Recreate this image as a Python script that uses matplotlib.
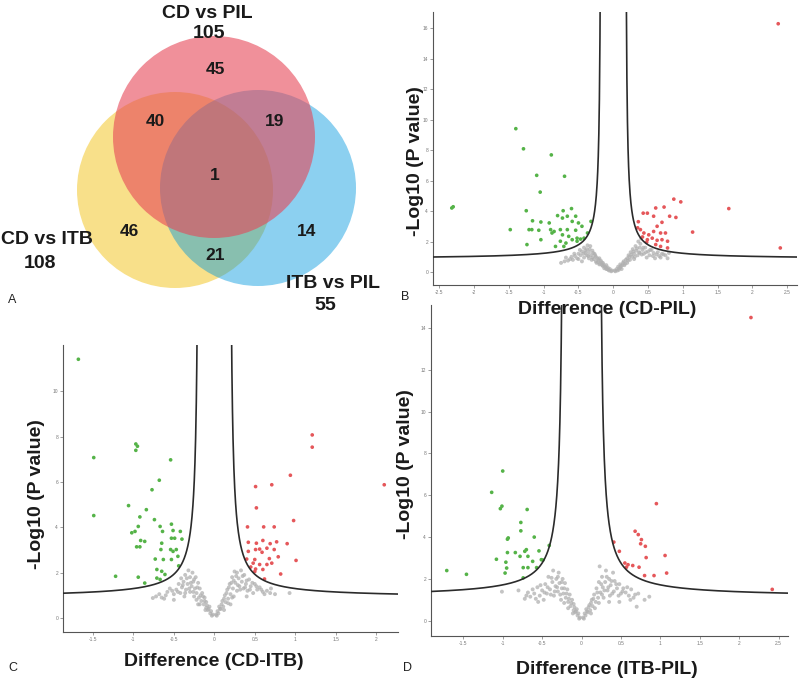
import numpy as np
import matplotlib
matplotlib.use("Agg")
import matplotlib.pyplot as plt
from matplotlib.patches import Circle

plt.rcParams['font.family'] = ['Liberation Sans', 'DejaVu Sans']

W, H = 800, 683

# ---- Venn counts ----
venn_sets = ["CD vs PIL", "CD vs ITB", "ITB vs PIL"]
venn_totals = [105, 108, 55]
venn_regions = {"PIL_only": 45, "CDPIL_CDITB": 40, "CDPIL_ITBPIL": 19, "all": 1,
                "CDITB_only": 46, "ITBPIL_only": 14, "CDITB_ITBPIL": 21}

# ---- volcano B: CD-PIL ----
b_green_x = [-2.32, -2.30, -1.40, -1.29, -0.89, -1.10, -0.70, -1.05, -1.25, -1.48, -1.24, -1.16, -1.04,
             -0.92, -1.17, -1.07, -1.04, -0.90, -0.85, -0.88, -0.80, -0.72, -0.60, -0.66, -0.73, -0.54,
             -0.59, -0.50, -0.76, -0.66, -0.54, -0.73, -0.64, -0.76, -0.68, -0.59, -0.52, -0.47, -0.42,
             -0.45, -0.37, -0.32, -0.83, -0.71, -0.52, -1.21]
b_green_y = [4.20, 4.28, 9.40, 8.08, 7.68, 6.34, 6.28, 5.24, 4.02, 2.78, 1.80, 3.36, 3.28,
             3.22, 2.78, 2.74, 2.12, 2.78, 2.66, 2.56, 3.70, 4.02, 4.16, 3.66, 3.54, 3.66,
             3.32, 3.22, 2.78, 2.78, 2.74, 2.44, 2.34, 2.02, 1.90, 2.12, 2.22, 2.16, 2.22,
             3.00, 2.56, 3.32, 1.68, 1.68, 2.02, 2.78]
b_red_x = [2.37, 2.40, 1.66, 1.14, 0.87, 0.97, 0.73, 0.61, 0.43, 0.49, 0.81, 0.90, 0.58, 0.70, 0.63,
           0.58, 0.68, 0.75, 0.39, 0.44, 0.51, 0.42, 0.49, 0.56, 0.63, 0.70, 0.78, 0.61, 0.68, 0.78,
           0.48, 0.35, 0.36]
b_red_y = [16.28, 1.58, 4.16, 2.62, 4.78, 4.60, 4.26, 4.20, 3.86, 3.86, 3.66, 3.58, 3.66, 3.26, 3.00,
           2.66, 2.56, 2.56, 2.78, 2.56, 2.44, 2.30, 2.12, 2.22, 2.08, 2.12, 2.02, 1.80, 1.68, 1.58,
           1.95, 2.90, 3.30]
b_gray_x = [-0.02, -0.05, -0.08, -0.10, -0.12, -0.15, -0.15, -0.18, -0.20, -0.20, -0.22, -0.25, -0.25,
            -0.27, -0.28, -0.30, -0.30, -0.32, -0.33, -0.35, -0.35, -0.38, -0.38, -0.40, -0.42, -0.42,
            -0.45, -0.47, -0.50, -0.52, -0.55, -0.58, -0.60, -0.65, -0.70, -0.75, -0.45, -0.10, -0.07,
            -0.13,
            -0.03, -0.06, -0.09, -0.11, -0.14, -0.16, -0.17, -0.19, -0.21, -0.23, -0.24, -0.26, -0.29,
            -0.31, -0.34, -0.36, -0.37, -0.40, -0.43, -0.48, -0.50, -0.56, -0.62, -0.68,
            0.02, 0.05, 0.07, 0.10, 0.10, 0.13, 0.15, 0.17, 0.20, 0.20, 0.22, 0.24, 0.25, 0.27, 0.28,
            0.30, 0.30, 0.32, 0.33, 0.35, 0.36, 0.38, 0.38, 0.40, 0.42, 0.44, 0.46, 0.50, 0.52, 0.55,
            0.58, 0.62, 0.66, 0.70, 0.75, 0.80, 0.48, 0.12, 0.08, 0.60,
            0.03, 0.06, 0.09, 0.11, 0.14, 0.16, 0.18, 0.21, 0.23, 0.26, 0.29, 0.31, 0.34, 0.37, 0.39,
            0.41, 0.43, 0.47, 0.53, 0.57, 0.64, 0.68, 0.72, 0.78]
b_gray_y = [0.10, 0.20, 0.30, 0.45, 0.35, 0.60, 0.40, 0.75, 0.50, 0.90, 0.65, 1.00, 0.70,
            1.20, 0.85, 1.40, 0.95, 1.10, 1.70, 1.30, 0.90, 1.50, 1.10, 1.25, 1.60, 0.95,
            1.35, 1.10, 1.20, 0.90, 1.05, 0.80, 1.00, 0.75, 0.70, 0.60, 0.70, 0.20, 0.15,
            0.25,
            0.05, 0.10, 0.20, 0.30, 0.50, 0.45, 0.65, 0.55, 0.80, 0.90, 0.60, 1.10, 1.25,
            0.80, 1.50, 1.05, 1.75, 1.40, 1.20, 1.45, 0.85, 1.20, 0.85, 0.95,
            0.10, 0.20, 0.35, 0.30, 0.50, 0.45, 0.70, 0.55, 0.90, 0.60, 1.10, 0.80, 1.30, 1.00, 1.50,
            1.20, 0.85, 1.70, 1.40, 1.10, 2.00, 1.60, 1.25, 2.20, 1.45, 1.20, 1.60, 1.35, 1.10, 1.45,
            1.25, 1.15, 1.05, 1.20, 1.10, 1.25, 0.95, 0.20, 0.15, 0.90,
            0.05, 0.10, 0.25, 0.40, 0.60, 0.45, 0.80, 0.75, 1.00, 1.15, 1.35, 1.00, 1.55, 1.30, 1.85,
            1.15, 1.60, 1.30, 1.45, 1.05, 1.30, 0.95, 1.15, 0.90]

# ---- volcano C: CD-ITB ----
c_green_x = [-1.68, -1.49, -1.49, -1.22, -0.97, -0.95, -0.97, -0.54, -0.68, -0.77, -1.06, -0.84, -0.92,
             -0.74, -0.53, -0.42, -0.67, -0.94, -0.98, -1.02, -0.64, -0.51, -0.91, -0.86, -0.65, -0.53,
             -0.49, -0.40, -0.96, -0.92, -0.66, -0.54, -0.51, -0.47, -0.45, -0.73, -0.63, -0.53, -0.44,
             -0.71, -0.65, -0.94, -0.71, -0.61, -0.86, -0.67]
c_green_y = [11.42, 7.08, 4.52, 1.84, 7.68, 7.58, 7.40, 6.98, 6.08, 5.66, 4.96, 4.78, 4.46,
             4.34, 4.14, 3.82, 4.04, 4.04, 3.82, 3.76, 3.82, 3.86, 3.42, 3.38, 3.30, 3.52,
             3.52, 3.48, 3.14, 3.14, 3.02, 3.02, 2.94, 3.02, 2.72, 2.60, 2.58, 2.58, 2.30,
             2.14, 2.06, 1.80, 1.76, 1.92, 1.54, 1.70]
c_red_x = [1.21, 1.21, 0.94, 2.10, 0.51, 0.71, 0.52, 0.98, 0.41, 0.61, 0.74, 0.42, 0.52, 0.60, 0.69,
           0.77, 0.90, 0.51, 0.56, 0.65, 0.74, 0.42, 0.59, 0.79, 1.01, 0.68, 0.40, 0.50, 0.56, 0.65,
           0.71, 0.45, 0.51, 0.60, 0.82, 0.50, 0.62, 0.48]
c_red_y = [8.08, 7.54, 6.30, 5.88, 5.80, 5.88, 4.86, 4.30, 4.02, 4.02, 4.02, 3.34, 3.30, 3.42, 3.28,
           3.36, 3.28, 3.02, 3.04, 3.08, 3.02, 2.94, 2.90, 2.70, 2.54, 2.62, 2.60, 2.58, 2.36, 2.36,
           2.42, 2.25, 2.16, 2.14, 1.94, 2.05, 1.72, 2.42]
c_gray_x = [-0.02, -0.04, -0.06, -0.08, -0.10, -0.10, -0.12, -0.13, -0.15, -0.16, -0.18, -0.19, -0.20,
            -0.22, -0.23, -0.24, -0.25, -0.26, -0.27, -0.28, -0.30, -0.30, -0.32, -0.33, -0.35, -0.36,
            -0.38, -0.40, -0.42, -0.44, -0.47, -0.50, -0.55, -0.60, -0.65, -0.72, -0.76, -0.50, -0.37,
            -0.20,
            -0.03, -0.05, -0.07, -0.09, -0.11, -0.12, -0.14, -0.17, -0.18, -0.21, -0.22, -0.25, -0.26,
            -0.29, -0.31, -0.34, -0.36, -0.39, -0.41, -0.45, -0.52, -0.58, -0.62, -0.68,
            0.02, 0.04, 0.06, 0.08, 0.10, 0.11, 0.13, 0.14, 0.16, 0.17, 0.19, 0.20, 0.22, 0.23, 0.24,
            0.25, 0.26, 0.28, 0.28, 0.30, 0.31, 0.33, 0.34, 0.36, 0.37, 0.39, 0.41, 0.43, 0.45, 0.48,
            0.50, 0.53, 0.56, 0.60, 0.65, 0.69, 0.75, 0.93, 0.40, 0.20,
            0.03, 0.05, 0.07, 0.09, 0.12, 0.12, 0.15, 0.17, 0.18, 0.21, 0.22, 0.24, 0.27, 0.29, 0.32,
            0.35, 0.38, 0.40, 0.44, 0.47, 0.52, 0.58, 0.62, 0.70]
c_gray_y = [0.15, 0.30, 0.50, 0.35, 0.70, 0.45, 0.90, 0.60, 1.10, 0.75, 1.30, 0.90, 1.55,
            1.10, 1.80, 1.30, 0.95, 1.60, 2.00, 1.40, 1.15, 1.80, 2.10, 1.50, 1.25, 1.90,
            1.60, 1.35, 1.10, 1.50, 1.25, 1.05, 1.30, 1.00, 0.90, 0.95, 0.88, 0.80, 0.95,
            0.60,
            0.10, 0.20, 0.40, 0.55, 0.35, 0.75, 0.95, 1.00, 0.60, 1.35, 0.80, 1.70, 1.15,
            1.55, 1.30, 1.75, 1.10, 1.45, 1.75, 1.15, 1.20, 1.15, 0.85, 1.05,
            0.15, 0.30, 0.50, 0.40, 0.75, 0.50, 1.00, 0.70, 1.25, 0.85, 1.50, 1.05, 1.80, 1.30, 0.95,
            2.05, 1.55, 2.00, 1.20, 1.75, 1.40, 2.10, 1.60, 1.30, 1.90, 1.50, 1.20, 1.70, 1.40, 1.10,
            1.50, 1.25, 1.35, 1.15, 1.20, 1.10, 1.05, 1.10, 0.95, 0.60,
            0.10, 0.20, 0.40, 0.60, 0.35, 0.85, 1.10, 0.65, 1.35, 1.55, 0.90, 1.65, 1.85, 1.45, 1.25,
            1.85, 1.35, 1.65, 1.25, 1.55, 1.40, 1.25, 1.05, 1.30]

# ---- volcano D: ITB-PIL ----
d_green_x = [-1.00, -1.14, -1.03, -1.01, -0.69, -0.77, -0.77, -0.94, -0.93, -0.60, -1.71, -1.46, -1.08,
             -0.94, -0.96, -0.95, -0.97, -0.84, -0.78, -0.72, -0.70, -0.68, -0.62, -0.74, -0.68, -0.57,
             -0.54, -0.51, -0.49, -0.41, -0.74]
d_green_y = [7.16, 6.14, 5.36, 5.48, 5.32, 4.70, 4.30, 3.90, 3.96, 4.00, 2.40, 2.22, 2.94,
             3.26, 2.80, 2.52, 2.28, 3.26, 3.08, 3.32, 3.40, 3.08, 2.84, 2.54, 2.54, 2.54,
             3.34, 2.92, 2.90, 3.60, 2.05]
d_red_x = [0.95, 0.41, 0.68, 0.72, 0.76, 0.75, 0.81, 0.48, 1.06, 0.82, 0.55, 0.57, 0.59, 0.65,
           0.73, 0.80, 0.92, 1.08, 2.42, 2.15]
d_red_y = [5.60, 3.76, 4.28, 4.12, 3.88, 3.68, 3.56, 3.32, 3.12, 3.02, 2.76, 2.56, 2.68, 2.64,
           2.56, 2.16, 2.16, 2.28, 1.50, 14.50]
d_gray_x = [-0.02, -0.04, -0.06, -0.08, -0.10, -0.10, -0.12, -0.14, -0.15, -0.17, -0.18, -0.20, -0.21,
            -0.23, -0.24, -0.25, -0.26, -0.28, -0.29, -0.30, -0.32, -0.33, -0.35, -0.36, -0.37, -0.40,
            -0.42, -0.44, -0.46, -0.50, -0.53, -0.56, -0.60, -0.65, -0.70, -0.72, -0.80, -1.01, -0.48,
            -0.55,
            -0.03, -0.05, -0.07, -0.09, -0.11, -0.13, -0.16, -0.17, -0.19, -0.22, -0.22, -0.25, -0.27,
            -0.30, -0.31, -0.34, -0.38, -0.39, -0.43, -0.47, -0.52, -0.58, -0.62, -0.68,
            0.02, 0.04, 0.06, 0.08, 0.10, 0.11, 0.13, 0.14, 0.16, 0.18, 0.19, 0.21, 0.22, 0.23, 0.24,
            0.26, 0.27, 0.28, 0.30, 0.31, 0.33, 0.35, 0.37, 0.39, 0.40, 0.42, 0.45, 0.48, 0.50, 0.53,
            0.56, 0.60, 0.63, 0.66, 0.70, 0.72, 0.80, 0.86, 0.48, 0.35,
            0.03, 0.05, 0.07, 0.09, 0.12, 0.12, 0.15, 0.17, 0.20, 0.22, 0.25, 0.26, 0.29, 0.32, 0.34,
            0.36, 0.38, 0.41, 0.44, 0.47, 0.52, 0.58, 0.62, 0.68]
d_gray_y = [0.15, 0.35, 0.55, 0.40, 0.80, 0.50, 1.00, 0.70, 1.25, 0.90, 1.50, 1.10, 1.80,
            1.30, 2.00, 1.55, 1.00, 1.80, 2.30, 1.40, 2.00, 1.65, 1.20, 2.40, 1.85, 1.50,
            2.10, 1.30, 1.75, 1.45, 1.20, 1.60, 1.30, 1.15, 1.20, 1.05, 1.45, 1.39, 1.00,
            0.90,
            0.10, 0.25, 0.45, 0.65, 0.35, 0.85, 1.05, 0.60, 1.30, 1.55, 0.85, 1.85, 1.25,
            2.10, 1.60, 1.40, 2.05, 1.25, 1.60, 1.35, 1.70, 1.05, 1.50, 1.35,
            0.15, 0.35, 0.55, 0.40, 0.75, 0.50, 1.00, 0.70, 1.25, 0.90, 1.55, 1.10, 1.85, 2.60, 1.35,
            2.10, 1.60, 1.10, 1.85, 2.40, 1.45, 2.00, 1.70, 1.30, 2.30, 1.90, 1.55, 1.75, 1.30, 1.55,
            1.35, 1.20, 1.50, 1.10, 0.67, 1.30, 1.00, 1.15, 0.90, 0.90,
            0.10, 0.25, 0.45, 0.65, 0.35, 0.85, 1.05, 0.60, 1.35, 0.85, 1.75, 1.25, 1.45, 2.10, 1.60,
            1.20, 1.90, 1.40, 1.75, 1.20, 1.40, 1.60, 1.00, 1.25]

# threshold curve params: y = a + b / (|x| - x0)
b_curve = (0.17, 0.86, 0.306)
c_curve = (0.185, 0.90, 0.324)
d_curve = (0.22, 1.13, 0.456)

GREEN = '#55b348'
RED = '#e5575a'
GRAY = '#b0b0b0'

fig = plt.figure(figsize=(W / 100, H / 100), dpi=100)

# background axes in pixel coords for venn and labels
bg = fig.add_axes([0, 0, 1, 1], zorder=0)
bg.set_xlim(0, W)
bg.set_ylim(H, 0)
bg.axis('off')


def px_axes(left, top, right, bottom):
    ax = fig.add_axes([left / W, 1 - bottom / H, (right - left) / W, (bottom - top) / H], zorder=1)
    ax.patch.set_alpha(0)
    return ax


def volcano(ax, gx, gy, rx, ry, grx, gry, curve, xlim, ylim, xticks, yticks):
    ax.scatter(grx, gry, s=8, c=GRAY, edgecolors='none', alpha=0.75, zorder=2)
    ax.scatter(gx, gy, s=7, c=GREEN, edgecolors='none', zorder=3)
    ax.scatter(rx, ry, s=7, c=RED, edgecolors='none', zorder=3)
    x0, a, b = curve
    xl = np.linspace(xlim[0], -x0 - 0.001, 600)
    xr = np.linspace(x0 + 0.001, xlim[1], 600)
    ax.plot(xl, a + b / (np.abs(xl) - x0), color='#2b2b2b', lw=1.2, zorder=4)
    ax.plot(xr, a + b / (np.abs(xr) - x0), color='#2b2b2b', lw=1.2, zorder=4)
    ax.set_xlim(*xlim)
    ax.set_ylim(*ylim)
    ax.set_xticks(xticks)
    ax.set_xticklabels([f"{v:g}" for v in xticks])
    ax.set_yticks(yticks)
    ax.set_yticklabels([f"{v:g}" for v in yticks])
    for s in ['top', 'right']:
        ax.spines[s].set_visible(False)
    for s in ['left', 'bottom']:
        ax.spines[s].set_color('#555555')
        ax.spines[s].set_linewidth(0.8)
    ax.tick_params(length=2, width=0.5, color='#777777', labelsize=3.5, labelcolor='#777777', pad=1.5)


axB = px_axes(433, 12, 797, 285)
volcano(axB, b_green_x, b_green_y, b_red_x, b_red_y, b_gray_x, b_gray_y, b_curve,
        (-2.59, 2.64), (-0.85, 17.05), np.arange(-2.5, 2.51, 0.5), np.arange(0, 17, 2))

axC = px_axes(63, 345, 398, 632)
volcano(axC, c_green_x, c_green_y, c_red_x, c_red_y, c_gray_x, c_gray_y, c_curve,
        (-1.87, 2.27), (-0.62, 12.05), np.arange(-1.5, 2.01, 0.5), np.arange(0, 11, 2))

axD = px_axes(431, 305, 788, 636)
volcano(axD, d_green_x, d_green_y, d_red_x, d_red_y, d_gray_x, d_gray_y, d_curve,
        (-1.91, 2.62), (-0.73, 15.1), np.arange(-1.5, 2.51, 0.5), np.arange(0, 15, 2))

# ---- Venn ----
bg.add_patch(Circle((175, 190), 98, facecolor='#f8e08a', edgecolor='none', alpha=1.0))
bg.add_patch(Circle((258, 188), 98, facecolor='#0097de', edgecolor='none', alpha=0.45))
bg.add_patch(Circle((214, 137), 101, facecolor='#e64657', edgecolor='none', alpha=0.6))

num_kw = dict(ha='center', va='center', fontsize=12.5, fontweight='bold', color='#1a1a1a')
bg.text(215, 70, str(venn_regions["PIL_only"]), **num_kw)
bg.text(155, 121, str(venn_regions["CDPIL_CDITB"]), **num_kw)
bg.text(275, 121, str(venn_regions["CDPIL_ITBPIL"]), **num_kw)
bg.text(215, 176, str(venn_regions["all"]), **num_kw)
bg.text(129, 232, str(venn_regions["CDITB_only"]), **num_kw)
bg.text(307, 232, str(venn_regions["ITBPIL_only"]), **num_kw)
bg.text(215, 255, str(venn_regions["CDITB_ITBPIL"]), **num_kw)

lab_kw = dict(ha='center', va='center', fontsize=14, fontweight='bold', color='#1a1a1a')
bg.text(207, 13, venn_sets[0], **lab_kw)
bg.text(209, 34, str(venn_totals[0]), **lab_kw)
bg.text(47, 240, venn_sets[1], **lab_kw)
bg.text(40, 263, str(venn_totals[1]), **lab_kw)
bg.text(333, 283, venn_sets[2], **lab_kw)
bg.text(325, 305, str(venn_totals[2]), **lab_kw)

# ---- axis labels ----
axl_kw = dict(ha='center', va='center', fontsize=14, fontweight='bold', color='#1a1a1a', zorder=5)
bg.text(607, 309, "Difference (CD-PIL)", **axl_kw)
bg.text(214, 662, "Difference (CD-ITB)", **axl_kw)
bg.text(607, 670, "Difference (ITB-PIL)", **axl_kw)
bg.text(415, 161, "-Log10 (P value)", rotation=90, **axl_kw)
bg.text(37, 494, "-Log10 (P value)", rotation=90, **axl_kw)
bg.text(405, 464, "-Log10 (P value)", rotation=90, **axl_kw)

# panel letters
for letter, (x, y) in zip("ABCD", [(12, 300), (405, 297), (13, 668), (408, 668)]):
    bg.text(x, y, letter, ha='center', va='center', fontsize=9, color='#222222')

fig.savefig("out.png", dpi=100)
